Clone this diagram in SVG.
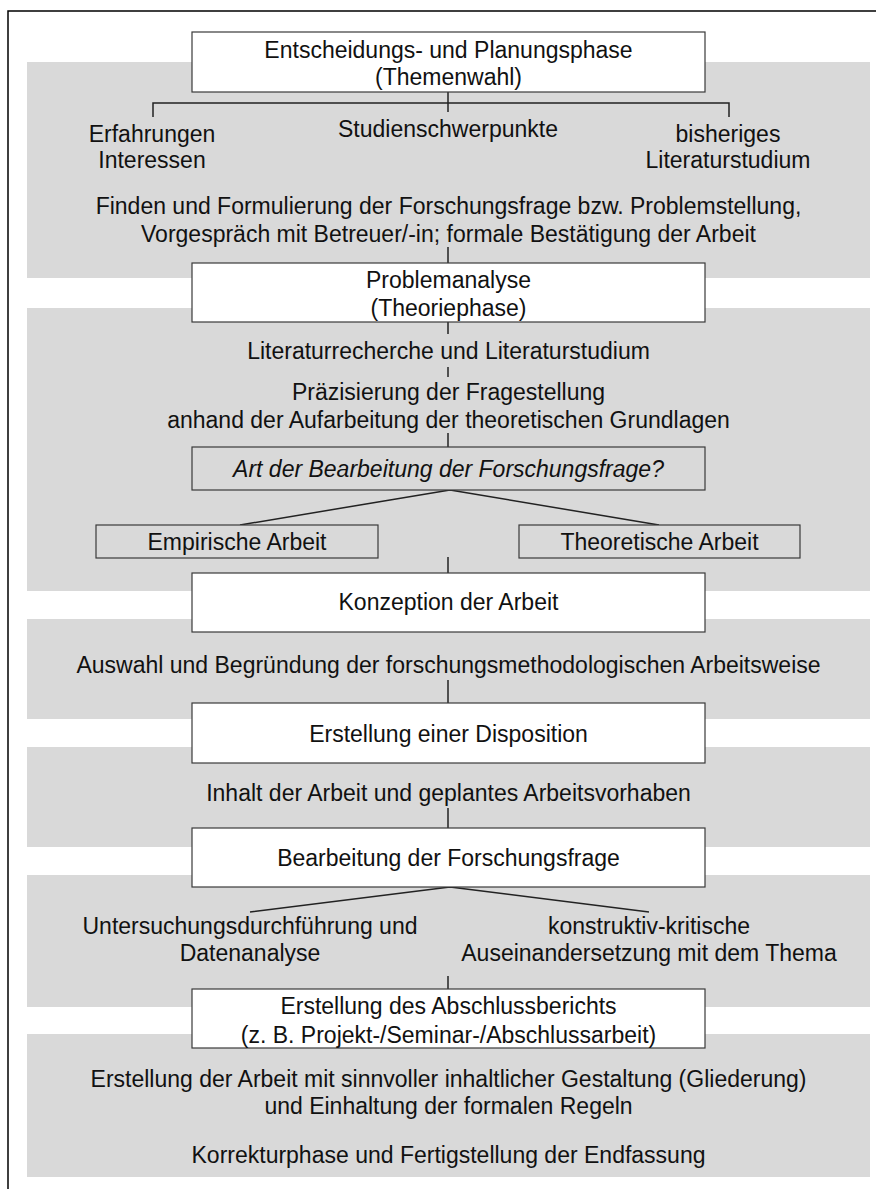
<svg xmlns="http://www.w3.org/2000/svg" width="876" height="1189" viewBox="0 0 876 1189">
<style>
.band{fill:#d9d9d9}
.box{fill:#fff;stroke:#3a3a3a;stroke-width:1.2}
.gbox{fill:#d9d9d9;stroke:#3a3a3a;stroke-width:1.2}
.t{font-family:"Liberation Sans",Arial,sans-serif;font-size:23px;fill:#111;text-anchor:middle}
.it{font-style:italic}
.c{stroke:#222;stroke-width:1.5;fill:none}
</style>
<rect width="876" height="1189" fill="#fff"/>
<path d="M8,1189 V11 H876" fill="none" stroke="#000" stroke-width="1.5"/>
<g id="bands">
<rect class="band" x="27" y="62" width="843" height="216"/>
<rect class="band" x="27" y="308" width="843" height="283"/>
<rect class="band" x="27" y="619" width="843" height="100"/>
<rect class="band" x="27" y="747" width="843" height="100"/>
<rect class="band" x="27" y="875" width="843" height="132"/>
<rect class="band" x="27" y="1034" width="843" height="143"/>
</g>
<g id="connectors">
<path class="c" d="M448,92 V112"/>
<path class="c" d="M153,117 V103 H729 V117" stroke-width="2"/>
<path class="c" d="M448,247 V263"/>
<path class="c" d="M448,322 V334"/>
<path class="c" d="M448,367 V377"/>
<path class="c" d="M448,433 V447"/>
<path class="c" d="M450,490 L240,525 M450,490 L659,525"/>
<path class="c" d="M448,557 V573"/>
<path class="c" d="M448,680 V703"/>
<path class="c" d="M448,808 V828"/>
<path class="c" d="M450,887 L250,912 M450,887 L649,912"/>
<path class="c" d="M448,976 V989"/>
</g>
<g id="n1"><rect class="box" x="192" y="32" width="513" height="60"/>
<text class="t" x="448.5" y="58">Entscheidungs- und Planungsphase</text>
<text class="t" x="448.5" y="85">(Themenwahl)</text></g>
<g id="n1a"><text class="t" x="152" y="142">Erfahrungen</text><text class="t" x="152" y="168">Interessen</text></g>
<g id="n1b"><text class="t" x="448" y="137">Studienschwerpunkte</text></g>
<g id="n1c"><text class="t" x="728" y="142">bisheriges</text><text class="t" x="728" y="168">Literaturstudium</text></g>
<g id="n1d"><text class="t" x="448.5" y="214">Finden und Formulierung der Forschungsfrage bzw. Problemstellung,</text>
<text class="t" x="448.5" y="242">Vorgespräch mit Betreuer/-in; formale Bestätigung der Arbeit</text></g>
<g id="n2"><rect class="box" x="192" y="263" width="513" height="59"/>
<text class="t" x="448.5" y="288">Problemanalyse</text>
<text class="t" x="448.5" y="316">(Theoriephase)</text></g>
<g id="n2a"><text class="t" x="448.5" y="359">Literaturrecherche und Literaturstudium</text></g>
<g id="n2b"><text class="t" x="448.5" y="400">Präzisierung der Fragestellung</text>
<text class="t" x="448.5" y="428">anhand der Aufarbeitung der theoretischen Grundlagen</text></g>
<g id="n3"><rect class="gbox" x="192" y="447" width="513" height="43"/>
<text class="t it" x="448.5" y="477">Art der Bearbeitung der Forschungsfrage?</text></g>
<g id="n3a"><rect class="gbox" x="96" y="525" width="282" height="33"/>
<text class="t" x="237" y="550">Empirische Arbeit</text></g>
<g id="n3b"><rect class="gbox" x="519" y="525" width="281" height="33"/>
<text class="t" x="659.5" y="550">Theoretische Arbeit</text></g>
<g id="n4"><rect class="box" x="192" y="573" width="513" height="59"/>
<text class="t" x="448.5" y="610">Konzeption der Arbeit</text></g>
<g id="n4a"><text class="t" x="448.5" y="673">Auswahl und Begründung der forschungsmethodologischen Arbeitsweise</text></g>
<g id="n5"><rect class="box" x="192" y="703" width="513" height="60"/>
<text class="t" x="448.5" y="742">Erstellung einer Disposition</text></g>
<g id="n5a"><text class="t" x="448.5" y="801">Inhalt der Arbeit und geplantes Arbeitsvorhaben</text></g>
<g id="n6"><rect class="box" x="192" y="828" width="513" height="59"/>
<text class="t" x="448.5" y="866">Bearbeitung der Forschungsfrage</text></g>
<g id="n6a"><text class="t" x="250" y="934">Untersuchungsdurchführung und</text>
<text class="t" x="250" y="961">Datenanalyse</text></g>
<g id="n6b"><text class="t" x="649" y="934">konstruktiv-kritische</text>
<text class="t" x="649" y="961">Auseinandersetzung mit dem Thema</text></g>
<g id="n7"><rect class="box" x="192" y="989" width="513" height="59"/>
<text class="t" x="448.5" y="1014">Erstellung des Abschlussberichts</text>
<text class="t" x="448.5" y="1043">(z. B. Projekt-/Seminar-/Abschlussarbeit)</text></g>
<g id="n7a"><text class="t" x="448.5" y="1087">Erstellung der Arbeit mit sinnvoller inhaltlicher Gestaltung (Gliederung)</text>
<text class="t" x="448.5" y="1114">und Einhaltung der formalen Regeln</text>
<text class="t" x="448.5" y="1163">Korrekturphase und Fertigstellung der Endfassung</text></g>
</svg>
